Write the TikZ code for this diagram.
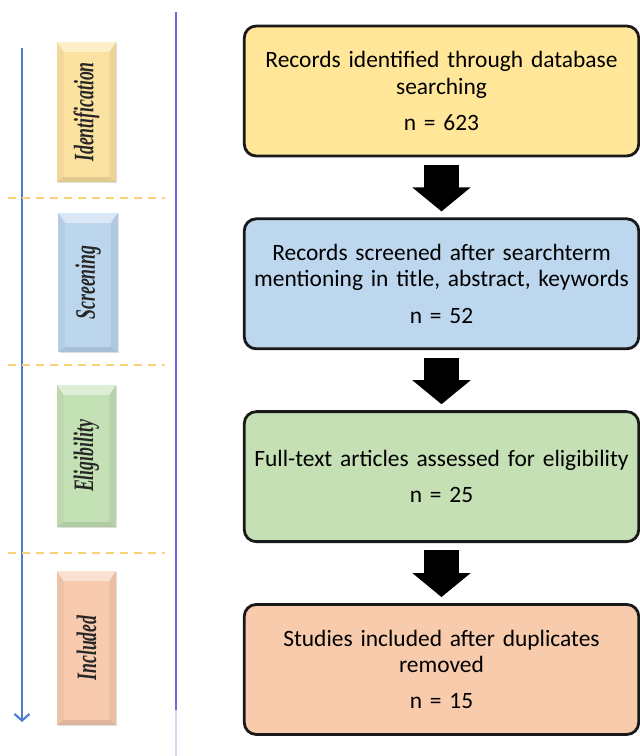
\documentclass[tikz,border=0pt]{standalone}
\usepackage{fontspec}
\setmainfont{Carlito}
\newfontfamily\phasefont{Liberation Serif}
\usepackage{graphicx}
\usetikzlibrary{shapes.geometric, arrows.meta, calc, positioning, shadows}
\definecolor{recyellow}{HTML}{FFE699}
\definecolor{recblue}{HTML}{BDD7EE}
\definecolor{recgreen}{HTML}{C5E0B4}
\definecolor{recorange}{HTML}{F8CBAD}
\definecolor{phyellow}{HTML}{FBE2A0}
\definecolor{phblue}{HTML}{BCD6EE}
\definecolor{phgreen}{HTML}{C4E1B5}
\definecolor{phorange}{HTML}{F8CAAE}
\definecolor{timeline}{HTML}{4A7DD0}
\definecolor{divider}{HTML}{7367E0}
\definecolor{sepline}{HTML}{FAD27A}
\tikzstyle{record} = [rectangle, rounded corners=0.36cm, line width=2.4pt, draw=black!90, minimum width=11.79cm, minimum height=3.9cm, text width=11.6cm, align=center, font=\fontsize{20}{22.6}\selectfont]
\tikzstyle{blockarrow} = [line width=1.05cm, -{Triangle[length=0.72cm,width=1.71cm]}, shorten <=0.22cm, shorten >=0.18cm]
\tikzstyle{phase} = [rectangle, minimum width=1.77cm, inner sep=0pt, text=black!85,
  drop shadow={opacity=0.25, shadow xshift=0.04cm, shadow yshift=-0.04cm},
  path picture={
    \coordinate (pnw) at (path picture bounding box.north west);
    \coordinate (pne) at (path picture bounding box.north east);
    \coordinate (psw) at (path picture bounding box.south west);
    \coordinate (pse) at (path picture bounding box.south east);
    \fill[white, opacity=0.45] (pnw) -- (pne) -- ([shift={(-0.2cm,-0.3cm)}]pne) -- ([shift={(0.2cm,-0.3cm)}]pnw) -- cycle;
    \fill[black, opacity=0.10] (psw) -- (pse) -- ([shift={(-0.2cm,0.15cm)}]pse) -- ([shift={(0.2cm,0.15cm)}]psw) -- cycle;
    \fill[black, opacity=0.04] (pnw) -- ([shift={(0.2cm,-0.3cm)}]pnw) -- ([shift={(0.2cm,0.15cm)}]psw) -- (psw) -- cycle;
    \fill[black, opacity=0.06] (pne) -- ([shift={(-0.2cm,-0.3cm)}]pne) -- ([shift={(-0.2cm,0.15cm)}]pse) -- (pse) -- cycle;
  }]
\tikzstyle{sep} = [sepline, line width=1.4pt, dash pattern=on 0.24cm off 0.18cm]
\newcommand{\phaselabel}[1]{\rotatebox{90}{\scalebox{0.63}[1]{\phasefont\bfseries\itshape\fontsize{24}{24}\selectfont #1}}}

\begin{document}
\begin{tikzpicture}[x=0.03cm, y=-0.03cm, node distance = 1.8cm, auto]
		\useasboundingbox (0,0) rectangle (639,756);
		% phase column
		\coordinate (FlowTop) at (22,48);
		\coordinate (FlowEnd) at (22,722);
		\coordinate (DividerTop) at (176,12);
		\coordinate (DividerEnd) at (176,710);
		\coordinate (DividerFade) at (176,756);
		\draw [timeline, line width=1.8pt, -{Straight Barb[length=0.2cm,width=0.45cm]}] (FlowTop) -- (FlowEnd);
		\draw [divider, line width=1.8pt] (DividerTop) -- (DividerEnd);
		\draw [divider!25, line width=1.8pt] (DividerEnd) -- (DividerFade);
		\foreach \y [count=\i] in {198, 365, 553} {
			\coordinate (SepLeft\i) at (8,\y);
			\coordinate (SepRight\i) at (165,\y);
			\draw [sep] (SepLeft\i) -- (SepRight\i);
		}
		\node (PhaseIdentification) [phase, fill=phyellow, minimum height=4.2cm] at (86.5,112) {\phaselabel{Identification}};
		\node (PhaseScreening) [phase, fill=phblue, minimum height=4.17cm] at (88,282.5) {\phaselabel{Screening}};
		\node (PhaseEligibility) [phase, fill=phgreen, minimum height=4.26cm] at (86.5,456) {\phaselabel{Eligibility}};
		\node (PhaseIncluded) [phase, fill=phorange, minimum height=4.62cm] at (86.5,648) {\phaselabel{Included}};
		% records
		\node (Identified) [record, fill=recyellow] at (441.5,91) {Records identified through database\\searching\\[0.3cm]n = 623};
		\node (Screened) [record, fill=recblue, below = of Identified] {Records screened after searchterm\\mentioning in title, abstract, keywords\\[0.3cm]n = 52};
		\node (Assessed) [record, fill=recgreen, below = of Screened] {Full-text articles assessed for eligibility\\[0.3cm]n = 25};
		\node (Included) [record, fill=recorange, below = of Assessed] {Studies included after duplicates\\removed\\[0.3cm]n = 15};
		\draw [blockarrow] (Identified) -- (Screened);
		\draw [blockarrow] (Screened) -- (Assessed);
		\draw [blockarrow] (Assessed) -- (Included);
\end{tikzpicture}
\end{document}
